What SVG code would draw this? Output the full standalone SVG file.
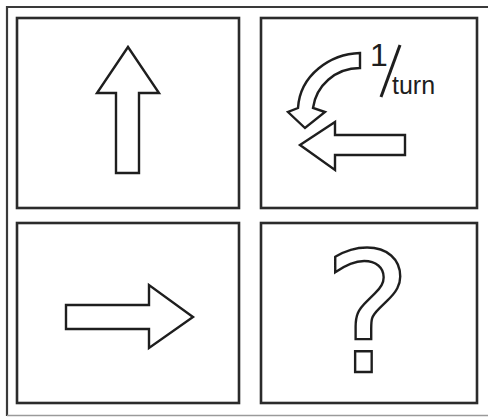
<svg xmlns="http://www.w3.org/2000/svg" width="488" height="417" viewBox="0 0 488 417">
  <style>
    .panel { fill: #ffffff; stroke: #2b2b2b; stroke-width: 2.6; }
    .icon { fill: #ffffff; stroke: #1e1e1e; stroke-width: 2.4; stroke-linejoin: miter; }
    .lbl { font-family: "Liberation Sans", Arial, sans-serif; fill: #1e1e1e; }
  </style>
  <rect x="0" y="0" width="488" height="417" fill="#ffffff"/>
  <g id="frame">
    <path d="M7,416 L7,7 L490,7" fill="none" stroke="#3a3a3a" stroke-width="2.2"/>
    <line x1="7" y1="415.5" x2="488" y2="415.5" stroke="#9a9a9a" stroke-width="1.5"/>
  </g>
  <g id="panel-forward">
    <rect class="panel" x="17" y="18" width="222" height="190"/>
    <polygon class="icon" points="128,47 159,93 139,93 139,173 116,173 116,93 97,93"/>
  </g>
  <g id="panel-turn">
    <rect class="panel" x="261" y="18" width="216" height="190"/>
    <path class="icon" d="M360,53 C330,54 300,75 298,108 L288,112 L305,128 L325,112 L313,108 C316,86 335,68 360,68 Z"/>
    <polygon class="icon" points="300,145 335,122 335,135 405,135 405,155 335,155 335,170"/>
    <text class="lbl" x="370" y="66" font-size="32">1</text>
    <line x1="381" y1="97" x2="400" y2="45" stroke="#1e1e1e" stroke-width="3"/>
    <text class="lbl" x="392" y="94" font-size="25">turn</text>
  </g>
  <g id="panel-right">
    <rect class="panel" x="17" y="223" width="222" height="180"/>
    <polygon class="icon" points="66,305 149,305 149,285 193,317 149,348 149,329 66,329"/>
  </g>
  <g id="panel-question">
    <rect class="panel" x="261" y="223" width="216" height="180"/>
    <text x="367.5" y="372" font-family="DejaVu Sans, sans-serif" font-size="167" text-anchor="middle" fill="#ffffff" stroke="#1e1e1e" stroke-width="2.4">?</text>
  </g>
</svg>
